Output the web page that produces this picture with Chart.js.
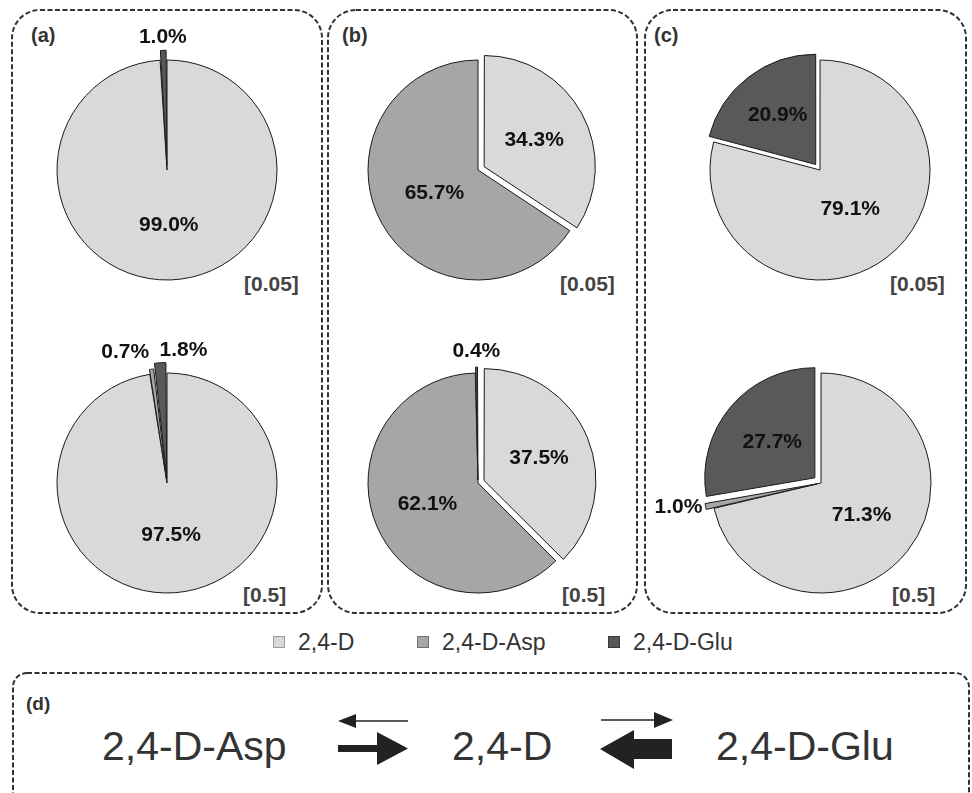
<!DOCTYPE html>
<html>
<head>
<meta charset="utf-8">
<script src="https://cdn.jsdelivr.net/npm/chart.js@4.4.1/dist/chart.umd.min.js"></script>
<style>
  body { margin: 0; background: #fff; }
  #page { position: relative; width: 972px; height: 793px; overflow: hidden; font-family: "Liberation Sans", Arial, sans-serif; }
  #page canvas { position: absolute; }
  #deco { position: absolute; left: 0; top: 0; }
  .txt { position: absolute; white-space: nowrap; line-height: 1; }
  .panel { font-weight: bold; font-size: 20px; color: #333; }
  .conc { font-weight: bold; font-size: 21px; color: #444; }
</style>
</head>
<body>
<div id="page">
  <svg id="deco" width="972" height="793"></svg>
</div>
<script>
// Data
const categories = ['2,4-D', '2,4-D-Asp', '2,4-D-Glu'];
const colors = ['#d9d9d9', '#a6a6a6', '#595959'];
const legendBorders = ['#9a9a9a', '#707070', '#3a3a3a'];

const aLow = [99.0, 0, 1.0];
const aHigh = [97.5, 0.7, 1.8];
const bLow = [34.3, 65.7, 0];
const bHigh = [37.5, 62.1, 0.4];
const cLow = [79.1, 0, 20.9];
const cHigh = [71.3, 1.0, 27.7];

const panelLabels = ['(a)', '(b)', '(c)'];
const concLabels = ['[0.05]', '[0.5]'];

// Pie layout (centre, exploded offsets, label placement)
const pies = [
  { data: aLow,  cx: 167, cy: 170, offset: [0, 0, 20],  lr: [0.5, 1.2, 1.21],  la: ['center', 'center', 'center'] },
  { data: aHigh, cx: 167, cy: 483, offset: [0, 10, 22], lr: [0.48, 1.2, 1.21], la: ['center', 'right', 'left'] },
  { data: bLow,  cx: 478, cy: 170, offset: [28, 0, 0],  lr: [0.58, 0.45, 1.2], la: ['center', 'center', 'center'] },
  { data: bHigh, cx: 478, cy: 483, offset: [26, 0, 12], lr: [0.6, 0.5, 1.2],   la: ['center', 'center', 'center'] },
  { data: cLow,  cx: 820, cy: 170, offset: [0, 0, 28],  lr: [0.45, 1.2, 0.63], la: ['center', 'center', 'center'] },
  { data: cHigh, cx: 821, cy: 483, offset: [0, 16, 32], lr: [0.47, 1.1, 0.58], la: ['center', 'right', 'center'] }
];

const page = document.getElementById('page');
const svg = document.getElementById('deco');
const NS = 'http://www.w3.org/2000/svg';

function svgEl(tag, attrs, text) {
    const el = document.createElementNS(NS, tag);
    for (const k in attrs) el.setAttribute(k, attrs[k]);
    if (text) el.textContent = text;
    svg.appendChild(el);
    return el;
}

function addText(cls, text, left, top) {
    const d = document.createElement('div');
    d.className = 'txt ' + cls;
    d.textContent = text;
    d.style.left = left + 'px';
    d.style.top = top + 'px';
    page.appendChild(d);
}

// Dashed panel boxes
const dash = { fill: 'none', stroke: '#333', 'stroke-width': 2, 'stroke-dasharray': '5 2.5' };
[[12, 322], [328, 637], [645, 966]].forEach(([x0, x1]) => {
    svgEl('rect', Object.assign({ x: x0, y: 10, width: x1 - x0, height: 603, rx: 28, ry: 28 }, dash));
});
svgEl('rect', Object.assign({ x: 13, y: 673, width: 956, height: 150, rx: 14, ry: 14 }, dash));

// Panel and concentration labels
[31, 342, 654].forEach((x, i) => addText('panel', panelLabels[i], x, 25));
[[244, 560, 890], [243, 562, 892]].forEach((xs, row) => {
    xs.forEach(x => addText('conc', concLabels[row], x, row === 0 ? 273 : 584));
});

// Legend
const legendX = [273, 417, 608];
categories.forEach((name, i) => {
    svgEl('rect', { x: legendX[i] + 0.5, y: 636.5, width: 11, height: 11, fill: colors[i], stroke: legendBorders[i], 'stroke-width': 1 });
    svgEl('text', { x: legendX[i] + 25, y: 650, 'font-size': 23, fill: '#333', 'font-family': 'Liberation Sans, Arial, sans-serif' }, name);
});

// Panel (d): reaction scheme
svgEl('text', { x: 26, y: 710, 'font-size': 19, 'font-weight': 'bold', fill: '#333', 'font-family': 'Liberation Sans, Arial, sans-serif' }, '(d)');
[[102, categories[1]], [452, categories[0]], [716, categories[2]]].forEach(([x, t]) => {
    svgEl('text', { x: x, y: 760, 'font-size': 41, fill: '#333', 'font-family': 'Liberation Sans, Arial, sans-serif' }, t);
});
// thin arrow: D -> Asp (leftwards)
svgEl('line', { x1: 354, y1: 721, x2: 408, y2: 721, stroke: '#222', 'stroke-width': 1.5 });
svgEl('polygon', { points: '338,721 356,714 356,728', fill: '#222' });
// thick arrow: Asp -> D
svgEl('rect', { x: 338, y: 745, width: 42, height: 7, fill: '#222' });
svgEl('polygon', { points: '377,732 408,748.5 377,765', fill: '#222' });
// thin arrow: D -> Glu
svgEl('line', { x1: 601, y1: 720, x2: 656, y2: 720, stroke: '#222', 'stroke-width': 1.5 });
svgEl('polygon', { points: '673,720 654,712 654,728', fill: '#222' });
// thick arrow: Glu -> D
svgEl('rect', { x: 631, y: 739, width: 41, height: 20, fill: '#222' });
svgEl('polygon', { points: '600,749 634,730 634,769', fill: '#222' });

// Percentage labels on slices
const sliceLabels = {
    id: 'sliceLabels',
    afterDatasetsDraw(chart, args, opts) {
        const ctx = chart.ctx;
        const meta = chart.getDatasetMeta(0);
        const values = chart.data.datasets[0].data;
        ctx.save();
        ctx.font = 'bold 21px "Liberation Sans", Arial, sans-serif';
        ctx.fillStyle = '#111';
        ctx.textBaseline = 'middle';
        meta.data.forEach((arc, i) => {
            if (!values[i]) return;
            const p = arc.getProps(['x', 'y', 'startAngle', 'endAngle', 'outerRadius'], true);
            const mid = (p.startAngle + p.endAngle) / 2;
            const r = p.outerRadius * opts.radius[i];
            ctx.textAlign = opts.align[i];
            ctx.fillText(values[i].toFixed(1) + '%', p.x + Math.cos(mid) * r, p.y + Math.sin(mid) * r);
        });
        ctx.restore();
    }
};

// Build pies
const W = 340, H = 300;
pies.forEach(p => {
    const canvas = document.createElement('canvas');
    canvas.width = W;
    canvas.height = H;
    canvas.style.left = (p.cx - W / 2) + 'px';
    canvas.style.top = (p.cy - H / 2) + 'px';
    page.appendChild(canvas);

    new Chart(canvas.getContext('2d'), {
        type: 'pie',
        data: {
            labels: categories,
            datasets: [{
                data: p.data,
                backgroundColor: colors,
                borderColor: '#1a1a1a',
                borderWidth: 1,
                offset: p.offset
            }]
        },
        options: {
            responsive: false,
            animation: false,
            devicePixelRatio: 1,
            radius: 110,
            layout: { padding: 0 },
            events: [],
            plugins: {
                legend: { display: false },
                tooltip: { enabled: false },
                sliceLabels: { radius: p.lr, align: p.la }
            }
        },
        plugins: [sliceLabels]
    });
});
</script>
</body>
</html>
